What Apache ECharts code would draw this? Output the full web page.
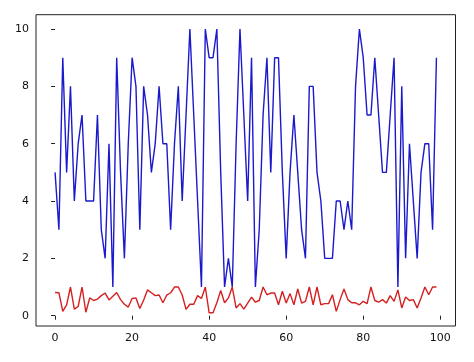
<!DOCTYPE html>
<html>
<head>
<meta charset="utf-8">
<script src="https://cdn.jsdelivr.net/npm/echarts@6/dist/echarts.min.js"></script>
<style>
html,body{margin:0;padding:0;background:#fff;}
#chart{width:474px;height:362px;}
</style>
</head>
<body>
<div id="chart"></div>
<script>
const blueValues = [5,3,9,5,8,4,6,7,4,4, 4,7,3,2,6,1,9,5,2,6, 9,8,3,8,7,5,6,8,6,6, 3,6,8,4,7,10,7,4,1,10, 9,9,10,5,1,2,1,6,10,7, 4,9,1,3,7,9,5,9,9,5, 2,5,7,5,3,2,8,8,5,4, 2,2,2,4,4,3,4,3,8,10, 9,7,7,9,7,5,5,7,9,1, 8,2,6,4,2,5,6,6,3,9];
const redValues = [0.81,0.80,0.15,0.38,1.0,0.23,0.32,1.0,0.12,0.62, 0.53,0.58,0.70,0.79,0.55,0.68,0.81,0.56,0.40,0.30,
  0.60,0.62,0.25,0.55,0.90,0.80,0.70,0.72,0.45,0.72, 0.80,1.0,1.0,0.72,0.22,0.40,0.40,0.70,0.60,1.0,
  0.10,0.10,0.45,0.88,0.45,0.62,1.0,0.27,0.42,0.23, 0.44,0.65,0.47,0.53,1.0,0.73,0.79,0.79,0.38,0.85,
  0.44,0.77,0.38,0.93,0.44,0.50,1.0,0.38,1.0,0.38, 0.42,0.42,0.73,0.15,0.56,0.93,0.56,0.45,0.45,0.38,
  0.50,0.42,1.0,0.53,0.47,0.56,0.44,0.70,0.50,0.90, 0.27,0.65,0.53,0.56,0.27,0.62,1.0,0.73,1.0,1.0];
const xTicks = [0,20,40,60,80,100];
const yTicks = [0,2,4,6,8,10];

const chart = echarts.init(document.getElementById('chart'), null, {renderer:'canvas'});
const labelStyle = {color:'#111', fontFamily:'DejaVu Sans', fontSize:11};
chart.setOption({
  animation:false,
  backgroundColor:'#fff',
  grid:{left:36, right:18.5, top:14.7, bottom:36, show:true, borderColor:'#222', borderWidth:1, containLabel:false},
  xAxis:{
    type:'value', min:-4.95, max:103.95,
    axisLine:{show:false},
    splitLine:{show:false},
    axisTick:{show:true, length:4, lineStyle:{color:'#222'}, customValues:xTicks},
    axisLabel:Object.assign({margin:7, customValues:xTicks, showMinLabel:true, showMaxLabel:true}, labelStyle)
  },
  yAxis:{
    type:'value', min:-0.36, max:10.5,
    axisLine:{show:false},
    splitLine:{show:false},
    axisTick:{show:true, length:4, lineStyle:{color:'#222'}, customValues:yTicks},
    axisLabel:Object.assign({margin:7, customValues:yTicks}, labelStyle)
  },
  series:[
    {type:'line', data:blueValues.map((v,i)=>[i,v]), showSymbol:false, lineStyle:{color:'#1a1acc', width:1.4}, itemStyle:{color:'#1a1acc'}},
    {type:'line', data:redValues.map((v,i)=>[i,v]), showSymbol:false, lineStyle:{color:'#d42020', width:1.4}, itemStyle:{color:'#d42020'}}
  ]
});
</script>
</body>
</html>
